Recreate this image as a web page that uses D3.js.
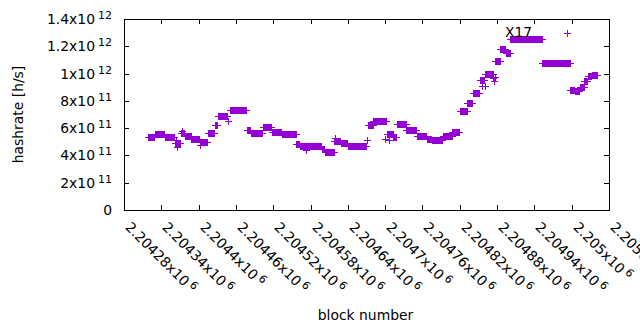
<!DOCTYPE html>
<html>
<head>
<meta charset="utf-8">
<script src="https://cdn.jsdelivr.net/npm/d3@7"></script>
<style>
  body { margin: 0; background: #fff; }
  text { font-family: "DejaVu Sans", sans-serif; font-size: 13.9px; fill: #000; }
</style>
</head>
<body>
<div id="chart"></div>
<script>
// hashrate per block, run-length encoded: first block, last block, rate (h/s)
var runFirst = [2204319, 2204330, 2204346, 2204362, 2204363, 2204365, 2204372, 2204373, 2204378, 2204388,
  2204402, 2204403, 2204415, 2204426, 2204431, 2204447, 2204450, 2204478, 2204484, 2204503,
  2204518, 2204534, 2204557, 2204563, 2204572, 2204579, 2204598, 2204603, 2204619, 2204618,
  2204629, 2204640, 2204671, 2204672, 2204681, 2204700, 2204703, 2204706, 2204713, 2204719,
  2204734, 2204751, 2204767, 2204775, 2204793, 2204808, 2204820, 2204832, 2204841, 2204852,
  2204856, 2204860, 2204861, 2204873, 2204875, 2204877, 2204877, 2204885, 2204894, 2204901,
  2204953, 2204993, 2204998, 2205005, 2205013, 2205020, 2205026, 2205032];
var runLast = [2204329, 2204345, 2204361, 2204370, 2204363, 2204365, 2204377, 2204373, 2204387, 2204401,
  2204414, 2204403, 2204425, 2204430, 2204445, 2204447, 2204477, 2204483, 2204502, 2204517,
  2204533, 2204556, 2204562, 2204578, 2204572, 2204597, 2204602, 2204617, 2204619, 2204628,
  2204639, 2204669, 2204671, 2204680, 2204701, 2204700, 2204712, 2204706, 2204718, 2204733,
  2204750, 2204766, 2204774, 2204792, 2204807, 2204819, 2204831, 2204840, 2204851, 2204859,
  2204856, 2204860, 2204874, 2204873, 2204875, 2204877, 2204884, 2204893, 2204900, 2204952,
  2204997, 2204993, 2205004, 2205012, 2205019, 2205025, 2205031, 2205041];
var runRate = [5.32e11, 5.57e11, 5.32e11, 4.92e11, 5.10e11, 4.62e11, 5.65e11, 5.79e11, 5.46e11, 5.17e11,
  5.02e11, 4.80e11, 5.61e11, 6.23e11, 6.89e11, 6.52e11, 7.33e11, 5.87e11, 5.65e11, 6.05e11,
  5.72e11, 5.54e11, 4.84e11, 4.69e11, 4.40e11, 4.66e11, 4.44e11, 4.25e11, 5.28e11, 5.06e11,
  4.91e11, 4.69e11, 5.13e11, 6.20e11, 6.56e11, 5.20e11, 5.57e11, 5.10e11, 5.35e11, 6.27e11,
  5.90e11, 5.39e11, 5.24e11, 5.10e11, 5.39e11, 5.72e11, 7.26e11, 7.81e11, 8.54e11, 9.50e11,
  9.09e11, 9.10e11, 10.0e11, 9.68e11, 9.46e11, 9.75e11, 10.89e11, 11.80e11, 11.51e11, 12.50e11,
  10.74e11, 13.00e11, 8.83e11, 8.72e11, 9.02e11, 9.49e11, 9.79e11, 9.86e11];

var xTicks = [2204280, 2204340, 2204400, 2204460, 2204520, 2204580, 2204640,
  2204700, 2204760, 2204820, 2204880, 2204940, 2205000, 2205060];
var yTicks = [0, 2e11, 4e11, 6e11, 8e11, 1e12, 1.2e12, 1.4e12];

var labelText = ["X17"];
var labelBlock = [2204893];
var labelRate = [1.268e12];

var svgWidth = 640;
var svgHeight = 330;

var margin = { top: 19, right: 31, bottom: 120, left: 124 };
var width = svgWidth - margin.left - margin.right;
var height = svgHeight - margin.top - margin.bottom;

var svg = d3.select("#chart")
  .append("svg")
  .attr("width", svgWidth)
  .attr("height", svgHeight);

var chartGroup = svg.append("g")
  .attr("transform", `translate(${margin.left}, ${margin.top})`);

// expand runs into one point per block
var points = [];
runFirst.forEach(function(first, i) {
  for (var b = first; b <= runLast[i]; b++) {
    points.push({ block: b, rate: runRate[i] });
  }
});

var xScale = d3.scaleLinear()
  .domain([xTicks[0], xTicks[xTicks.length - 1]])
  .rangeRound([0, width]);

var yScale = d3.scaleLinear()
  .domain([0, 1.4e12])
  .rangeRound([height, 0]);

// "m x10^e" labels
function sciParts(v, exp) {
  if (v === 0) return ["0", null];
  if (exp === undefined) exp = Math.floor(Math.log10(v) + 1e-9);
  var m = +(v / Math.pow(10, exp)).toFixed(5);
  return [m + "x10", String(exp)];
}

function fillSci(sel, exp) {
  sel.each(function(d) {
    var parts = sciParts(d, exp);
    var t = d3.select(this).text(null);
    t.append("tspan").text(parts[0]);
    if (parts[1]) {
      t.append("tspan").attr("dx", 3).attr("dy", "-0.45em")
        .style("font-size", "11px").text(parts[1]);
    }
  });
}

// axes with inward ticks on all sides
var bottomAxis = d3.axisBottom(xScale).tickValues(xTicks).tickSize(-5).tickPadding(0);
var leftAxis = d3.axisLeft(yScale).tickValues(yTicks).tickSize(-5).tickPadding(12);
var topAxis = d3.axisTop(xScale).tickValues(xTicks).tickSize(-5).tickFormat("");
var rightAxis = d3.axisRight(yScale).tickValues(yTicks).tickSize(-5).tickFormat("");

var xAxisG = chartGroup.append("g")
  .attr("transform", `translate(0, ${height})`)
  .call(bottomAxis);
var yAxisG = chartGroup.append("g").call(leftAxis);
var topG = chartGroup.append("g").call(topAxis);
var rightG = chartGroup.append("g").attr("transform", `translate(${width}, 0)`).call(rightAxis);

[xAxisG, yAxisG, topG, rightG].forEach(function(g) {
  g.select(".domain").remove();
  g.attr("font-family", null).attr("font-size", null);
  g.selectAll(".tick line").attr("stroke", "#000");
});

yAxisG.selectAll(".tick text").call(fillSci);
xAxisG.selectAll(".tick text")
  .attr("x", 0).attr("y", 0).attr("dy", 0)
  .attr("transform", "translate(0, 18) rotate(45)")
  .style("text-anchor", "start")
  .call(fillSci, 6);

// frame
chartGroup.append("rect")
  .attr("x", 0.5).attr("y", 0.5)
  .attr("width", width).attr("height", height)
  .attr("fill", "none").attr("stroke", "#000");

// plus markers
chartGroup.append("g").selectAll("path")
  .data(points)
  .enter()
  .append("path")
  .attr("d", function(d) {
    var px = xScale(d.block), py = yScale(d.rate);
    return `M${px - 3},${py + 0.5}H${px + 4}M${px + 0.5},${py - 3}V${py + 4}`;
  })
  .attr("stroke", "#9400d3")
  .attr("stroke-width", 1)
  .attr("fill", "none");

// point label
chartGroup.append("g").selectAll("text")
  .data(labelText)
  .enter()
  .append("text")
  .attr("x", (d, i) => xScale(labelBlock[i]))
  .attr("y", (d, i) => yScale(labelRate[i]))
  .text(d => d);

// axis titles
svg.append("text")
  .attr("transform", `translate(23, ${margin.top + height / 2}) rotate(-90)`)
  .attr("text-anchor", "middle")
  .text("hashrate [h/s]");

svg.append("text")
  .attr("x", margin.left + width / 2 - 1)
  .attr("y", 320)
  .attr("text-anchor", "middle")
  .text("block number");
</script>
</body>
</html>
